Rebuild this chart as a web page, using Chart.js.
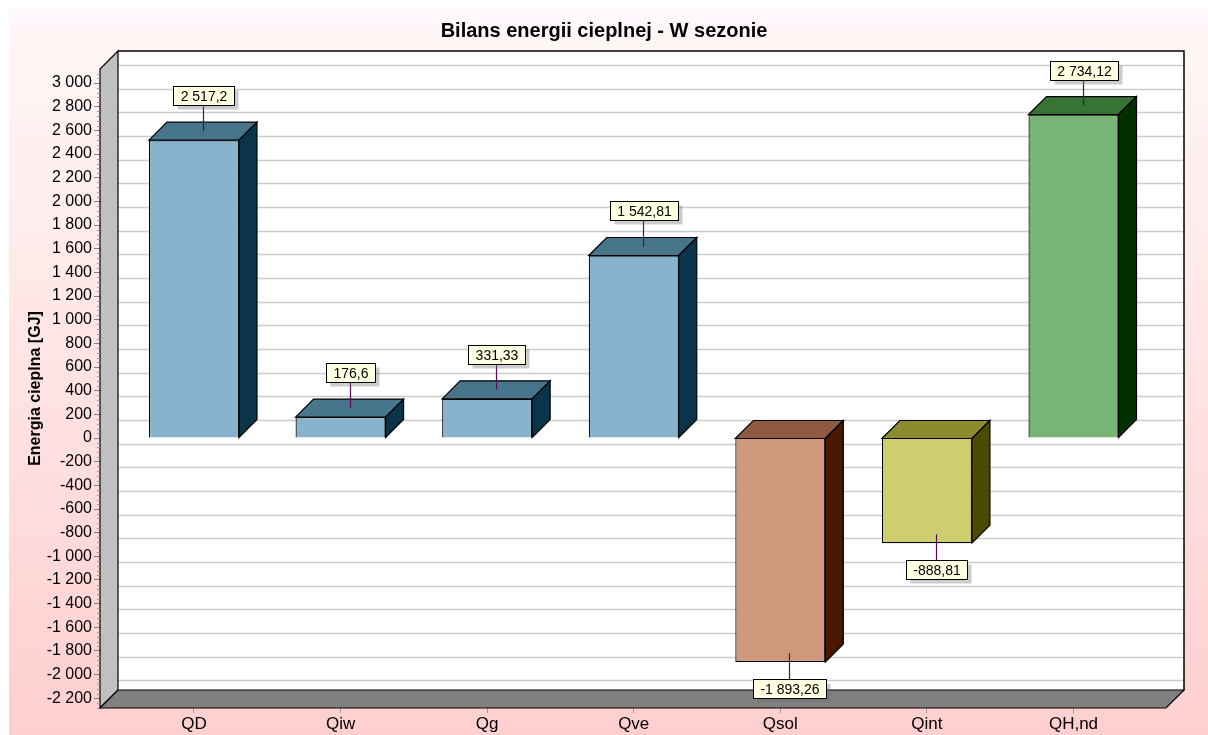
<!DOCTYPE html>
<html><head><meta charset="utf-8">
<script src="https://cdn.jsdelivr.net/npm/chart.js@4/dist/chart.umd.min.js"></script>
<style>html,body{margin:0;padding:0;background:#fff}#wrap{width:1208px;height:735px}canvas{display:block}</style>
</head><body><div id="wrap"><canvas id="c" width="1208" height="735"></canvas></div>
<script>
const categories = ['QD', 'Qiw', 'Qg', 'Qve', 'Qsol', 'Qint', 'QH,nd'];
const values = [2517.2, 176.6, 331.33, 1542.81, -1893.26, -888.81, 2734.12];
const frontColors = ['#87b4cc', '#87b4cc', '#87b4cc', '#87b4cc', '#cf987d', '#cece6e', '#78b474'];
const topColors = ['#46758c', '#46758c', '#46758c', '#46758c', '#8f5a40', '#8c8c2e', '#377434'];
const sideColors = ['#09344a', '#09344a', '#09344a', '#09344a', '#4a1800', '#4a4a00', '#003000'];
const yTickValues = [3000, 2800, 2600, 2400, 2200, 2000, 1800, 1600, 1400, 1200, 1000, 800, 600, 400, 200, 0,
  -200, -400, -600, -800, -1000, -1200, -1400, -1600, -1800, -2000, -2200];
const titleText = 'Bilans energii cieplnej - W sezonie';
const yTitleText = 'Energia cieplna [GJ]';

const DEPTH = 18;
const FONT = '"Liberation Sans", Arial, sans-serif';

function fmt(v) {
  const neg = v < 0;
  const parts = String(Math.abs(v)).split('.');
  const intPart = parts[0].replace(/\B(?=(\d{3})+(?!\d))/g, ' ');
  return (neg ? '-' : '') + intPart + (parts[1] ? ',' + parts[1] : '');
}

const threeD = {
  id: 'threeD',
  beforeDraw(chart) {
    const ctx = chart.ctx;
    ctx.save();
    ctx.fillStyle = '#ffffff';
    ctx.fillRect(0, 0, chart.width, chart.height);
    const g = ctx.createLinearGradient(0, 9, 0, chart.height);
    g.addColorStop(0, '#fff8f8');
    g.addColorStop(1, '#ffcfcf');
    ctx.fillStyle = g;
    ctx.fillRect(9, 9, chart.width - 9, chart.height - 9);
    ctx.restore();
  },
  beforeDatasetsDraw(chart) {
    const ctx = chart.ctx;
    const {left: L, right: R, top: T, bottom: B} = chart.chartArea;
    const d = DEPTH;
    const ys = chart.scales.y;
    ctx.save();
    ctx.fillStyle = '#ffffff';
    ctx.fillRect(L + d, T - d, R - L, B - T);
    ctx.strokeStyle = '#cccccc';
    ctx.lineWidth = 1.5;
    yTickValues.forEach(v => {
      const y = Math.round(ys.getPixelForValue(v)) - d + 0.5;
      ctx.beginPath(); ctx.moveTo(L + d, y); ctx.lineTo(R + d, y); ctx.stroke();
    });
    ctx.strokeStyle = '#000';
    ctx.lineWidth = 1.5;
    ctx.beginPath();
    ctx.moveTo(L + d, T - d); ctx.lineTo(R + d, T - d); ctx.lineTo(R + d, B - d);
    ctx.stroke();
    ctx.lineWidth = 1.2;
    ctx.fillStyle = '#c0c0c0';
    ctx.beginPath();
    ctx.moveTo(L, T); ctx.lineTo(L + d, T - d); ctx.lineTo(L + d, B - d); ctx.lineTo(L, B); ctx.closePath();
    ctx.fill(); ctx.stroke();
    ctx.fillStyle = '#808080';
    ctx.beginPath();
    ctx.moveTo(L, B); ctx.lineTo(L + d, B - d); ctx.lineTo(R + d, B - d); ctx.lineTo(R, B); ctx.closePath();
    ctx.fill(); ctx.stroke();
    ctx.strokeStyle = '#999999';
    ctx.lineWidth = 1;
    for (let v = -2280; v <= 3100; v += 40) {
      if (v % 200 === 0) continue;
      const y = Math.round(ys.getPixelForValue(v)) + 0.5;
      ctx.beginPath(); ctx.moveTo(L - 3, y); ctx.lineTo(L, y); ctx.stroke();
    }
    ctx.restore();
  },
  afterDatasetsDraw(chart) {
    const ctx = chart.ctx;
    const d = DEPTH;
    const meta = chart.getDatasetMeta(0);
    ctx.save();
    ctx.lineWidth = 1.2;
    ctx.strokeStyle = '#000';
    meta.data.forEach((bar, i) => {
      const p = bar.getProps(['x', 'y', 'base', 'width'], true);
      const l = p.x - p.width / 2, r = p.x + p.width / 2;
      const top = Math.min(p.y, p.base), bot = Math.max(p.y, p.base);
      ctx.fillStyle = topColors[i];
      ctx.beginPath();
      ctx.moveTo(l, top); ctx.lineTo(l + d, top - d); ctx.lineTo(r + d, top - d); ctx.lineTo(r, top); ctx.closePath();
      ctx.fill(); ctx.stroke();
      ctx.fillStyle = sideColors[i];
      ctx.beginPath();
      ctx.moveTo(r, top); ctx.lineTo(r + d, top - d); ctx.lineTo(r + d, bot - d); ctx.lineTo(r, bot); ctx.closePath();
      ctx.fill(); ctx.stroke();
    });
    ctx.font = '14px ' + FONT;
    ctx.textAlign = 'center';
    ctx.textBaseline = 'middle';
    meta.data.forEach((bar, i) => {
      const p = bar.getProps(['x', 'y', 'base'], true);
      const v = values[i];
      const ax = Math.round(p.x + d / 2) + 0.5;
      const ay = p.y - d / 2;
      const len = 26;
      const txt = fmt(v);
      const tw = ctx.measureText(txt).width;
      const bw = Math.round(tw + 14), bh = 19;
      const by = v >= 0 ? ay - len - bh : ay + len;
      const bx = Math.round(ax - bw / 2) + 0.5;
      const byr = Math.round(by) + 0.5;
      ctx.strokeStyle = '#5a0a5a';
      ctx.lineWidth = 1.2;
      ctx.beginPath(); ctx.moveTo(ax, ay); ctx.lineTo(ax, v >= 0 ? ay - len : ay + len); ctx.stroke();
      ctx.fillStyle = 'rgba(110,110,110,0.35)';
      ctx.fillRect(bx + 4, byr + 4, bw, bh);
      ctx.fillStyle = '#ffffe1';
      ctx.fillRect(bx, byr, bw, bh);
      ctx.strokeStyle = '#000';
      ctx.lineWidth = 1;
      ctx.strokeRect(bx, byr, bw, bh);
      ctx.fillStyle = '#000';
      ctx.fillText(txt, bx + bw / 2, byr + bh / 2 + 1);
    });
    ctx.restore();
  }
};

new Chart(document.getElementById('c'), {
  type: 'bar',
  data: {
    datasets: [{
      data: values.map((v, i) => ({x: i, y: v})),
      backgroundColor: frontColors,
      borderColor: '#000',
      borderWidth: 1.2,
      barPercentage: 0.614,
      categoryPercentage: 1
    }]
  },
  options: {
    responsive: false,
    devicePixelRatio: 1,
    animation: false,
    layout: {padding: {left: 0, right: 0, top: 0, bottom: 0}},
    plugins: {
      legend: {display: false},
      tooltip: {enabled: false},
      title: {
        display: true,
        text: titleText,
        color: '#000',
        font: {family: FONT, size: 20, weight: 'bold'},
        padding: {top: 19, bottom: 26}
      }
    },
    scales: {
      x: {
        type: 'linear',
        offset: false,
        min: -0.641,
        max: 6.631,
        afterBuildTicks: s => { s.ticks = categories.map((c, i) => ({value: i})); },
        afterFit: s => { s.height = 27; },
        ticks: {
          callback: v => categories[v],
          color: '#000',
          font: {family: FONT, size: 17},
          padding: 1,
          maxRotation: 0,
          autoSkip: false
        },
        grid: {offset: false, drawOnChartArea: false, drawTicks: true, tickLength: 5, color: '#9a9a9a'},
        border: {display: false}
      },
      y: {
        min: -2282,
        max: 3119,
        afterBuildTicks: s => { s.ticks = yTickValues.map(v => ({value: v})); },
        afterFit: s => { s.width = 100; },
        ticks: {
          callback: v => fmt(v),
          color: '#000',
          font: {family: FONT, size: 16},
          padding: 2,
          autoSkip: false
        },
        grid: {drawOnChartArea: false, drawTicks: true, tickLength: 6, color: '#808080'},
        border: {display: true, color: '#000'},
        title: {
          display: true,
          text: yTitleText,
          color: '#000',
          font: {family: FONT, size: 16, weight: 'bold'},
          padding: {top: 26, bottom: 0}
        }
      },
      yRight: {
        type: 'linear',
        position: 'right',
        display: true,
        min: 0,
        max: 1,
        afterFit: s => { s.width = 42; },
        ticks: {display: false},
        grid: {display: false, drawTicks: false},
        border: {display: false}
      }
    }
  },
  plugins: [threeD]
});
</script>
</body></html>
